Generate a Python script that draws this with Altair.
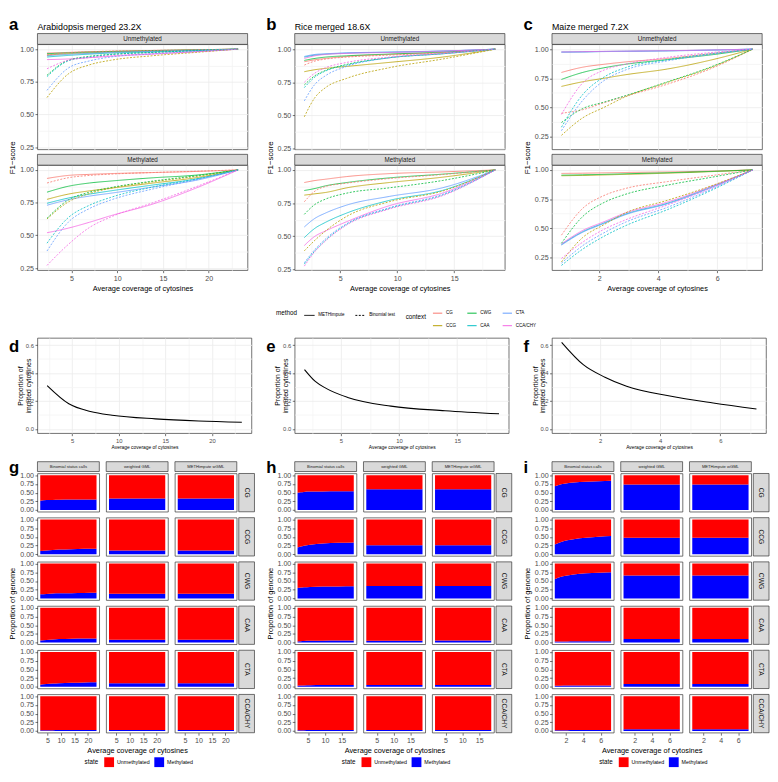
import altair as alt
import pandas as pd

FONT = "Liberation Sans"

CONTEXTS = ["CG", "CCG", "CWG", "CAA", "CTA", "CCA/CHY"]
CONTEXT_COLORS = {"CG": "#F8766D", "CCG": "#B79F00", "CWG": "#00BA38",
                  "CAA": "#00BFC4", "CTA": "#619CFF", "CCA/CHY": "#F564E3"}
LEGEND_ORDER = ["CG", "CWG", "CTA", "CCG", "CAA", "CCA/CHY"]
METHODS = ["METHimpute", "Binomial test"]
STATES = ["Unmethylated", "Methylated"]
CALLERS = ["Binomial status calls", "weighted GML", "METHimpute wGML"]
STATE_COLORS = ["#FF0000", "#0000FF"]

# ---------------- Arabidopsis (23.2X) ----------------
A_X = [2.32, 4.64, 6.96, 9.28, 13.92, 18.56, 23.2]
A_UNM_METHIMPUTE = {
    "CG": [0.970, 0.975, 0.980, 0.983, 0.990, 0.995, 1.0],
    "CCG": [0.955, 0.965, 0.972, 0.978, 0.986, 0.993, 1.0],
    "CWG": [0.965, 0.972, 0.978, 0.982, 0.989, 0.995, 1.0],
    "CAA": [0.940, 0.952, 0.962, 0.970, 0.980, 0.990, 1.0],
    "CTA": [0.950, 0.960, 0.968, 0.975, 0.984, 0.992, 1.0],
    "CCA/CHY": [0.920, 0.925, 0.935, 0.945, 0.962, 0.980, 1.0],
}
A_UNM_BINOMIAL = {
    "CG": [0.955, 0.972, 0.980, 0.985, 0.990, 0.995, 1.0],
    "CCG": [0.630, 0.810, 0.880, 0.915, 0.950, 0.975, 1.0],
    "CWG": [0.800, 0.915, 0.945, 0.960, 0.975, 0.988, 1.0],
    "CAA": [0.790, 0.910, 0.940, 0.958, 0.975, 0.988, 1.0],
    "CTA": [0.685, 0.855, 0.910, 0.940, 0.965, 0.983, 1.0],
    "CCA/CHY": [0.850, 0.915, 0.935, 0.950, 0.965, 0.980, 1.0],
}
A_MET_METHIMPUTE = {
    "CG": [0.935, 0.958, 0.966, 0.972, 0.980, 0.988, 1.0],
    "CCG": [0.775, 0.815, 0.840, 0.860, 0.900, 0.940, 1.0],
    "CWG": [0.830, 0.875, 0.900, 0.915, 0.940, 0.960, 1.0],
    "CAA": [0.745, 0.785, 0.815, 0.840, 0.885, 0.930, 1.0],
    "CTA": [0.730, 0.772, 0.800, 0.822, 0.870, 0.920, 1.0],
    "CCA/CHY": [0.520, 0.555, 0.600, 0.650, 0.740, 0.860, 1.0],
}
A_MET_BINOMIAL = {
    "CG": [0.900, 0.940, 0.958, 0.968, 0.980, 0.990, 1.0],
    "CCG": [0.625, 0.755, 0.820, 0.860, 0.910, 0.950, 1.0],
    "CWG": [0.630, 0.770, 0.830, 0.865, 0.915, 0.955, 1.0],
    "CAA": [0.440, 0.635, 0.730, 0.790, 0.870, 0.930, 1.0],
    "CTA": [0.380, 0.600, 0.705, 0.770, 0.855, 0.925, 1.0],
    "CCA/CHY": [0.270, 0.430, 0.560, 0.640, 0.750, 0.870, 1.0],
}
A_IMPUTED = [0.310, 0.180, 0.125, 0.098, 0.072, 0.057, 0.048]
A_GEN_BINOMIAL = {
    "CG": [0.27, 0.285, 0.29, 0.295, 0.30, 0.305, 0.305],
    "CCG": [0.09, 0.11, 0.125, 0.135, 0.145, 0.155, 0.16],
    "CWG": [0.12, 0.13, 0.14, 0.145, 0.15, 0.155, 0.16],
    "CAA": [0.06, 0.075, 0.09, 0.10, 0.11, 0.115, 0.12],
    "CTA": [0.06, 0.08, 0.095, 0.105, 0.115, 0.125, 0.13],
    "CCA/CHY": [0.02, 0.022, 0.024, 0.026, 0.028, 0.03, 0.03],
}
A_GEN_WGML = {"CG": 0.33, "CCG": 0.11, "CWG": 0.135, "CAA": 0.085, "CTA": 0.10, "CCA/CHY": 0.03}
A_GEN_METHIMPUTE = {"CG": 0.33, "CCG": 0.11, "CWG": 0.135, "CAA": 0.085, "CTA": 0.10, "CCA/CHY": 0.03}

# ---------------- Rice (18.6X) ----------------
R_X = [1.86, 2.79, 3.72, 5.58, 9.3, 13.95, 18.6]
R_UNM_METHIMPUTE = {
    "CG": [0.905, 0.920, 0.930, 0.945, 0.960, 0.975, 1.0],
    "CCG": [0.830, 0.845, 0.855, 0.870, 0.900, 0.940, 1.0],
    "CWG": [0.915, 0.930, 0.940, 0.950, 0.963, 0.978, 1.0],
    "CAA": [0.940, 0.955, 0.962, 0.970, 0.977, 0.985, 1.0],
    "CTA": [0.945, 0.960, 0.965, 0.972, 0.978, 0.986, 1.0],
    "CCA/CHY": [0.930, 0.950, 0.960, 0.968, 0.975, 0.985, 1.0],
}
R_UNM_BINOMIAL = {
    "CG": [0.880, 0.910, 0.925, 0.940, 0.955, 0.972, 1.0],
    "CCG": [0.490, 0.635, 0.710, 0.780, 0.860, 0.925, 1.0],
    "CWG": [0.730, 0.800, 0.840, 0.885, 0.935, 0.965, 1.0],
    "CAA": [0.710, 0.790, 0.835, 0.880, 0.935, 0.965, 1.0],
    "CTA": [0.610, 0.735, 0.800, 0.870, 0.935, 0.965, 1.0],
    "CCA/CHY": [0.750, 0.820, 0.860, 0.900, 0.940, 0.968, 1.0],
}
R_MET_METHIMPUTE = {
    "CG": [0.905, 0.920, 0.930, 0.950, 0.972, 0.985, 1.0],
    "CCG": [0.810, 0.820, 0.830, 0.865, 0.905, 0.945, 1.0],
    "CWG": [0.845, 0.860, 0.880, 0.905, 0.940, 0.968, 1.0],
    "CAA": [0.490, 0.560, 0.605, 0.675, 0.770, 0.845, 1.0],
    "CTA": [0.570, 0.635, 0.675, 0.735, 0.800, 0.865, 1.0],
    "CCA/CHY": [0.430, 0.500, 0.540, 0.610, 0.730, 0.825, 1.0],
}
R_MET_BINOMIAL = {
    "CG": [0.760, 0.840, 0.875, 0.900, 0.935, 0.965, 1.0],
    "CCG": [0.390, 0.470, 0.540, 0.650, 0.760, 0.840, 1.0],
    "CWG": [0.665, 0.740, 0.780, 0.825, 0.865, 0.920, 1.0],
    "CAA": [0.290, 0.390, 0.470, 0.590, 0.710, 0.810, 1.0],
    "CTA": [0.300, 0.400, 0.480, 0.595, 0.715, 0.815, 1.0],
    "CCA/CHY": [0.275, 0.385, 0.465, 0.585, 0.705, 0.805, 1.0],
}
R_IMPUTED = [0.425, 0.340, 0.290, 0.225, 0.163, 0.130, 0.108]
R_GEN_BINOMIAL = {
    "CG": [0.50, 0.51, 0.52, 0.53, 0.535, 0.54, 0.54],
    "CCG": [0.19, 0.22, 0.245, 0.275, 0.31, 0.33, 0.34],
    "CWG": [0.30, 0.31, 0.32, 0.33, 0.34, 0.345, 0.35],
    "CAA": [0.035, 0.04, 0.045, 0.05, 0.055, 0.058, 0.06],
    "CTA": [0.03, 0.035, 0.04, 0.045, 0.05, 0.052, 0.055],
    "CCA/CHY": [0.02, 0.022, 0.024, 0.026, 0.028, 0.03, 0.03],
}
R_GEN_WGML = {"CG": 0.60, "CCG": 0.26, "CWG": 0.36, "CAA": 0.05, "CTA": 0.05, "CCA/CHY": 0.03}
R_GEN_METHIMPUTE = {"CG": 0.60, "CCG": 0.26, "CWG": 0.36, "CAA": 0.06, "CTA": 0.05, "CCA/CHY": 0.03}

# ---------------- Maize (7.2X) ----------------
M_X = [0.72, 1.44, 2.16, 2.88, 4.32, 5.76, 7.2]
M_UNM_METHIMPUTE = {
    "CG": [0.800, 0.845, 0.870, 0.890, 0.920, 0.960, 1.0],
    "CCG": [0.680, 0.720, 0.750, 0.780, 0.830, 0.905, 1.0],
    "CWG": [0.740, 0.800, 0.840, 0.870, 0.910, 0.950, 1.0],
    "CAA": [0.975, 0.977, 0.980, 0.982, 0.986, 0.992, 1.0],
    "CTA": [0.974, 0.976, 0.979, 0.981, 0.985, 0.991, 1.0],
    "CCA/CHY": [0.976, 0.978, 0.981, 0.983, 0.987, 0.993, 1.0],
}
M_UNM_BINOMIAL = {
    "CG": [0.450, 0.480, 0.540, 0.595, 0.700, 0.830, 1.0],
    "CCG": [0.260, 0.410, 0.500, 0.590, 0.715, 0.840, 1.0],
    "CWG": [0.370, 0.490, 0.545, 0.600, 0.720, 0.845, 1.0],
    "CAA": [0.330, 0.610, 0.760, 0.840, 0.910, 0.960, 1.0],
    "CTA": [0.300, 0.560, 0.730, 0.820, 0.900, 0.955, 1.0],
    "CCA/CHY": [0.440, 0.710, 0.820, 0.870, 0.930, 0.970, 1.0],
}
M_MET_METHIMPUTE = {
    "CG": [0.970, 0.972, 0.975, 0.978, 0.983, 0.990, 1.0],
    "CCG": [0.950, 0.953, 0.957, 0.962, 0.972, 0.985, 1.0],
    "CWG": [0.955, 0.958, 0.962, 0.967, 0.976, 0.987, 1.0],
    "CAA": [0.360, 0.470, 0.545, 0.620, 0.715, 0.850, 1.0],
    "CTA": [0.355, 0.465, 0.540, 0.615, 0.710, 0.845, 1.0],
    "CCA/CHY": [0.365, 0.480, 0.555, 0.630, 0.725, 0.855, 1.0],
}
M_MET_BINOMIAL = {
    "CG": [0.440, 0.670, 0.780, 0.840, 0.900, 0.950, 1.0],
    "CCG": [0.210, 0.420, 0.530, 0.630, 0.740, 0.860, 1.0],
    "CWG": [0.370, 0.600, 0.720, 0.790, 0.870, 0.935, 1.0],
    "CAA": [0.180, 0.320, 0.430, 0.520, 0.660, 0.820, 1.0],
    "CTA": [0.200, 0.350, 0.460, 0.550, 0.680, 0.830, 1.0],
    "CCA/CHY": [0.240, 0.380, 0.490, 0.570, 0.700, 0.840, 1.0],
}
M_IMPUTED = [0.620, 0.460, 0.370, 0.305, 0.235, 0.185, 0.142]
M_GEN_BINOMIAL = {
    "CG": [0.68, 0.74, 0.77, 0.79, 0.81, 0.83, 0.84],
    "CCG": [0.28, 0.35, 0.40, 0.43, 0.47, 0.50, 0.52],
    "CWG": [0.55, 0.62, 0.66, 0.69, 0.72, 0.74, 0.75],
    "CAA": [0.03, 0.032, 0.034, 0.036, 0.038, 0.04, 0.04],
    "CTA": [0.03, 0.032, 0.034, 0.036, 0.038, 0.04, 0.04],
    "CCA/CHY": [0.02, 0.022, 0.024, 0.026, 0.028, 0.03, 0.03],
}
M_GEN_WGML = {"CG": 0.73, "CCG": 0.47, "CWG": 0.66, "CAA": 0.10, "CTA": 0.08, "CCA/CHY": 0.05}
M_GEN_METHIMPUTE = {"CG": 0.73, "CCG": 0.47, "CWG": 0.66, "CAA": 0.10, "CTA": 0.08, "CCA/CHY": 0.05}

# axis tick values (major + minor grid positions)
A_XTICKS = [2.5, 5, 7.5, 10, 12.5, 15, 17.5, 20, 22.5]
R_XTICKS = [2.5, 5, 7.5, 10, 12.5, 15, 17.5]
M_XTICKS = [1, 2, 3, 4, 5, 6, 7]
F1_YTICKS = [0.25, 0.375, 0.5, 0.625, 0.75, 0.875, 1.0]
IMP_YTICKS = [0.0, 0.1, 0.2, 0.3, 0.4, 0.5, 0.6]
GEN_YTICKS = [0.0, 0.25, 0.5, 0.75, 1.0]

W1, H1 = 214, 107
W2, H2 = 218, 97
W3, H3 = 63, 39
F1_SPACING = 16

STRIP_FILL = "#D9D9D9"
BORDER = "#333333"
YMAJ4 = "abs(datum.value*4 - round(datum.value*4)) < 0.001"
YMAJ5 = "abs(datum.value*5 - round(datum.value*5)) < 0.001"
A_XMAJ = "datum.value % 5 == 0"
M_XMAJ = "datum.value % 2 == 0"


def cond(test, a, b):
    return {"condition": {"test": test, "value": a}, "value": b}


def grid_axis(values, major, fmt, title, label_size, title_size, **kw):
    return alt.Axis(values=values, format=fmt, title=title,
                    labelExpr=f"({major}) ? datum.label : ''",
                    gridColor=cond(major, "#EBEBEB", "#F4F4F4"),
                    tickOpacity=cond(major, 1, 0),
                    labelFontSize=label_size, titleFontSize=title_size, **kw)


def grid_only_axis(values, major):
    return alt.Axis(values=values, labels=False, ticks=False, title=None,
                    gridColor=cond(major, "#EBEBEB", "#F4F4F4"))


def letter_text(base, letter, y):
    return base.mark_text(text=letter, font=FONT, fontSize=17, fontWeight="bold", align="left",
                          baseline="top", color="black").encode(x=alt.value(-29), y=alt.value(y))


CTX_LEGEND = alt.Legend(title="context", orient="none", legendX=375, legendY=268,
                        direction="horizontal", columns=3, titleOrient="left",
                        titleAnchor="middle", titleBaseline="middle",
                        symbolType="stroke", symbolSize=90, symbolStrokeWidth=1,
                        labelFontSize=4.6, titleFontSize=6.4, labelFont=FONT, titleFont=FONT,
                        titleFontWeight="normal", columnPadding=8, rowPadding=5,
                        labelOffset=3, titlePadding=6, labelColor="black", titleColor="black")
METHOD_LEGEND = alt.Legend(title="method", orient="none", legendX=243, legendY=270,
                           direction="horizontal", titleOrient="left",
                           symbolType="stroke", symbolSize=110, symbolStrokeWidth=1,
                           symbolStrokeColor="black",
                           labelFontSize=4.6, titleFontSize=6.4, labelFont=FONT, titleFont=FONT,
                           titleFontWeight="normal", columnPadding=8, labelOffset=3,
                           titlePadding=6, labelColor="black", titleColor="black")
STATE_LEGEND = alt.Legend(title="state", orient="none", legendX=48, legendY=289,
                          direction="horizontal", titleOrient="left",
                          symbolType="square", symbolSize=100, symbolStrokeWidth=0,
                          labelFontSize=5.4, titleFontSize=6.4, labelFont=FONT, titleFont=FONT,
                          titleFontWeight="normal", columnPadding=4, labelOffset=3,
                          titlePadding=6, labelColor="black", titleColor="black")


def f1_panel(letter, title, xs, tables, xdom, ydom, xticks, xmajor):
    charts = []
    for si, state in enumerate(STATES):
        rows = []
        for method, table in zip(METHODS, tables[si]):
            for ctx in CONTEXTS:
                for x, v in zip(xs, table[ctx]):
                    rows.append({"state": state, "method": method, "context": ctx, "x": x, "f1": v})
        df = pd.DataFrame(rows)
        bottom = si == 1
        if bottom:
            xaxis = grid_axis(xticks, xmajor, "~g", "Average coverage of cytosines", 7.2, 7.5,
                              titlePadding=3)
            yaxis = grid_axis(F1_YTICKS, YMAJ4, ".2f", "F1\u2212score", 7.2, 8,
                              titleX=-21, titleY=-F1_SPACING / 2)
        else:
            xaxis = grid_only_axis(xticks, xmajor)
            yaxis = grid_axis(F1_YTICKS, YMAJ4, ".2f", None, 7.2, 8)
        lines = alt.Chart().mark_line(strokeWidth=0.8, interpolate="monotone").encode(
            x=alt.X("x:Q", scale=alt.Scale(domain=xdom, nice=False, zero=False), axis=xaxis),
            y=alt.Y("f1:Q", scale=alt.Scale(domain=ydom, nice=False, zero=False), axis=yaxis),
            stroke=alt.Stroke("context:N",
                              scale=alt.Scale(domain=LEGEND_ORDER,
                                              range=[CONTEXT_COLORS[c] for c in LEGEND_ORDER]),
                              legend=CTX_LEGEND),
            strokeDash=alt.StrokeDash("method:N",
                                      scale=alt.Scale(domain=METHODS, range=[[1, 0], [2, 1.5]]),
                                      legend=METHOD_LEGEND),
        )
        one = alt.Chart().transform_filter(
            f"datum.context == 'CG' && datum.method == 'METHimpute' && datum.x == {xs[0]}")
        strip = one.mark_rect(fill=STRIP_FILL, stroke=BORDER, strokeWidth=0.7).encode(
            x=alt.value(0), x2=alt.value(W1), y=alt.value(-11), y2=alt.value(0))
        strip_text = one.mark_text(font=FONT, fontSize=6.4, color="#1A1A1A", baseline="middle").encode(
            x=alt.value(W1 / 2), y=alt.value(-5.3), text="state:N")
        layers = [lines, strip, strip_text]
        if not bottom:
            layers.append(letter_text(one, letter, -28))
            layers.append(one.mark_text(text=title, font=FONT, fontSize=9, align="left",
                                        baseline="alphabetic", color="black").encode(
                x=alt.value(0), y=alt.value(-15)))
        charts.append(alt.layer(*layers, data=df).properties(width=W1, height=H1))
    return alt.vconcat(*charts, spacing=F1_SPACING, bounds="flush")


def imputed_panel(letter, xs, vals, xdom, xticks, xmajor):
    df = pd.DataFrame({"x": xs, "p": vals})
    xaxis = grid_axis(xticks, xmajor, "~g", "Average coverage of cytosines", 6, 5, titlePadding=2)
    yaxis = grid_axis(IMP_YTICKS, YMAJ5, ".1f", ["Proportion of", "imputed cytosines"], 6, 7,
                      titleX=-14, titleLineHeight=7.5)
    line = alt.Chart().mark_line(color="black", strokeWidth=1.1, interpolate="monotone").encode(
        x=alt.X("x:Q", scale=alt.Scale(domain=xdom, nice=False, zero=False), axis=xaxis),
        y=alt.Y("p:Q", scale=alt.Scale(domain=[-0.031, 0.651], nice=False, zero=False), axis=yaxis),
    )
    one = alt.Chart().transform_filter(f"datum.x == {xs[0]}")
    return alt.layer(line, letter_text(one, letter, 1), data=df).properties(width=W2, height=H2)


def genome_panel(letter, xs, binom, wgml, mimp, xdom, xticks):
    cells = []
    for ri, ctx in enumerate(CONTEXTS):
        for ci, caller in enumerate(CALLERS):
            recs = []
            for i, x in enumerate(xs):
                if ci == 0:
                    m = binom[ctx][i]
                elif ci == 1:
                    m = wgml[ctx]
                else:
                    m = mimp[ctx]
                recs.append({"context": ctx, "caller": caller, "x": x, "state": "Methylated",
                             "ord": 0, "p": m})
                recs.append({"context": ctx, "caller": caller, "x": x, "state": "Unmethylated",
                             "ord": 1, "p": round(1 - m, 4)})
            df = pd.DataFrame(recs)
            last_row = ri == len(CONTEXTS) - 1
            if last_row:
                xaxis = alt.Axis(values=xticks, grid=False, format="~g", labelFontSize=7.2,
                                 title="Average coverage of cytosines" if ci == 1 else None,
                                 titleFontSize=7.5, titlePadding=3)
            else:
                xaxis = None
            if ci == 0:
                if ri == 3:
                    yaxis = alt.Axis(values=GEN_YTICKS, format=".2f", grid=False, labelFontSize=7.2,
                                     title="Proportion of genome", titleFontSize=7.6,
                                     titleX=-21, titleY=-3)
                else:
                    yaxis = alt.Axis(values=GEN_YTICKS, format=".2f", grid=False, labelFontSize=7.2,
                                     title=None)
            else:
                yaxis = None
            area = alt.Chart().mark_area(interpolate="monotone").encode(
                x=alt.X("x:Q", scale=alt.Scale(domain=xdom, nice=False, zero=False), axis=xaxis),
                y=alt.Y("p:Q", stack="zero",
                        scale=alt.Scale(domain=[-0.05, 1.05], nice=False, zero=False), axis=yaxis),
                fill=alt.Fill("state:N", scale=alt.Scale(domain=STATES, range=STATE_COLORS),
                              legend=STATE_LEGEND),
                order=alt.Order("ord:Q"),
            )
            one = alt.Chart().transform_filter(f"datum.x == {xs[0]} && datum.state == 'Methylated'")
            layers = [area]
            if ri == 0:
                layers.append(one.mark_rect(fill=STRIP_FILL, stroke=BORDER, strokeWidth=0.7).encode(
                    x=alt.value(0), x2=alt.value(W3), y=alt.value(-12), y2=alt.value(-2)))
                layers.append(one.mark_text(font=FONT, fontSize=4.2, color="#1A1A1A",
                                            baseline="middle").encode(
                    x=alt.value(W3 / 2), y=alt.value(-7), text="caller:N"))
            if ci == 2:
                layers.append(one.mark_rect(fill=STRIP_FILL, stroke=BORDER, strokeWidth=0.7).encode(
                    x=alt.value(W3 + 2), x2=alt.value(W3 + 18), y=alt.value(0), y2=alt.value(H3)))
                layers.append(one.mark_text(font=FONT, fontSize=6.8, color="#1A1A1A", angle=90,
                                            baseline="middle").encode(
                    x=alt.value(W3 + 10), y=alt.value(H3 / 2), text="context:N"))
            if ri == 0 and ci == 0:
                layers.append(letter_text(one, letter, -14))
            cells.append(alt.layer(*layers, data=df).properties(width=W3, height=H3))
    return alt.concat(*cells, columns=3, spacing={"row": 6, "column": 7}, bounds="flush")


pa = f1_panel("a", "Arabidopsis merged 23.2X", A_X,
              [(A_UNM_METHIMPUTE, A_UNM_BINOMIAL), (A_MET_METHIMPUTE, A_MET_BINOMIAL)],
              [1.28, 24.24], [0.2335, 1.0365], A_XTICKS, A_XMAJ)
pb = f1_panel("b", "Rice merged 18.6X", R_X,
              [(R_UNM_METHIMPUTE, R_UNM_BINOMIAL), (R_MET_METHIMPUTE, R_MET_BINOMIAL)],
              [1.02, 19.44], [0.244, 1.036], R_XTICKS, A_XMAJ)
pc = f1_panel("c", "Maize merged 7.2X", M_X,
              [(M_UNM_METHIMPUTE, M_UNM_BINOMIAL), (M_MET_METHIMPUTE, M_MET_BINOMIAL)],
              [0.40, 7.52], [0.139, 1.041], M_XTICKS, M_XMAJ)

pd_ = imputed_panel("d", A_X, A_IMPUTED, [1.28, 24.24], A_XTICKS, A_XMAJ)
pe = imputed_panel("e", R_X, R_IMPUTED, [1.02, 19.44], R_XTICKS, A_XMAJ)
pf = imputed_panel("f", M_X, M_IMPUTED, [0.40, 7.52], M_XTICKS, M_XMAJ)

pg = genome_panel("g", A_X, A_GEN_BINOMIAL, A_GEN_WGML, A_GEN_METHIMPUTE, [1.28, 24.24], [5, 10, 15, 20])
ph = genome_panel("h", R_X, R_GEN_BINOMIAL, R_GEN_WGML, R_GEN_METHIMPUTE, [1.02, 19.44], [5, 10, 15])
pi = genome_panel("i", M_X, M_GEN_BINOMIAL, M_GEN_WGML, M_GEN_METHIMPUTE, [0.40, 7.52], [2, 4, 6])

row1 = alt.hconcat(pa, pb, pc, spacing=17)
row2 = alt.hconcat(pd_, pe, pf, spacing=13)
row3 = alt.hconcat(pg, ph, pi, spacing=10).resolve_scale(fill="independent")

chart = alt.vconcat(row1, alt.vconcat(row2, row3, spacing=7), spacing=45, padding=0).configure_view(
    stroke=BORDER, strokeWidth=0.7
).configure_axis(
    labelFont=FONT, titleFont=FONT, labelColor="#4D4D4D", titleColor="black",
    tickColor=BORDER, tickSize=2.5, tickWidth=0.7, domain=False, labelPadding=1.5,
    titleFontWeight="normal", gridWidth=0.8
).configure_text(font=FONT)

chart.save("out.html", embed_options={"renderer": "svg", "actions": False})
